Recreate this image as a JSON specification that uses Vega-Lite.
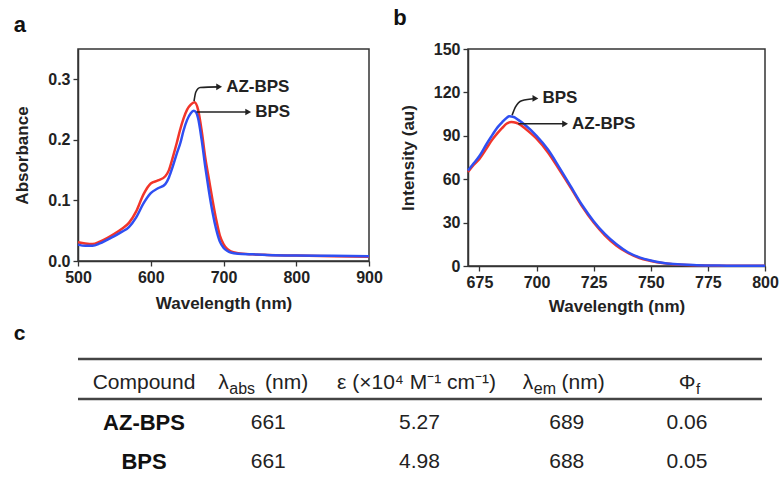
{
  "$schema": "https://vega.github.io/schema/vega-lite/v6.json",
  "background": "white",
  "padding": {"left": 13, "top": 6, "right": 5, "bottom": 0},
  "config": {
    "font": "Liberation Sans",
    "view": {"stroke": "#333", "strokeWidth": 1.5},
    "axis": {
      "grid": false, "domainColor": "#333", "domainWidth": 1.5,
      "tickColor": "#333", "tickWidth": 1.3, "labelFlush": false,
      "labelFont": "Liberation Sans", "labelFontSize": 16, "labelFontWeight": "bold", "labelColor": "#222",
      "titleFont": "Liberation Sans", "titleFontSize": 17, "titleFontWeight": "bold", "titleColor": "#222"
    },
    "title": {"fontSize": 22, "fontWeight": "bold", "anchor": "start", "frame": "bounds", "baseline": "alphabetic", "color": "#111"}
  },
  "datasets": {
    "absorbance": [
      {"compound": "AZ-BPS", "wavelength": 500, "absorbance": 0.031},
      {"compound": "AZ-BPS", "wavelength": 510, "absorbance": 0.029},
      {"compound": "AZ-BPS", "wavelength": 520, "absorbance": 0.028},
      {"compound": "AZ-BPS", "wavelength": 530, "absorbance": 0.032},
      {"compound": "AZ-BPS", "wavelength": 540, "absorbance": 0.038},
      {"compound": "AZ-BPS", "wavelength": 550, "absorbance": 0.045},
      {"compound": "AZ-BPS", "wavelength": 560, "absorbance": 0.053},
      {"compound": "AZ-BPS", "wavelength": 570, "absorbance": 0.063},
      {"compound": "AZ-BPS", "wavelength": 580, "absorbance": 0.082},
      {"compound": "AZ-BPS", "wavelength": 590, "absorbance": 0.110},
      {"compound": "AZ-BPS", "wavelength": 600, "absorbance": 0.128},
      {"compound": "AZ-BPS", "wavelength": 610, "absorbance": 0.133},
      {"compound": "AZ-BPS", "wavelength": 620, "absorbance": 0.140},
      {"compound": "AZ-BPS", "wavelength": 625, "absorbance": 0.150},
      {"compound": "AZ-BPS", "wavelength": 630, "absorbance": 0.170},
      {"compound": "AZ-BPS", "wavelength": 636, "absorbance": 0.196},
      {"compound": "AZ-BPS", "wavelength": 640, "absorbance": 0.215},
      {"compound": "AZ-BPS", "wavelength": 645, "absorbance": 0.235},
      {"compound": "AZ-BPS", "wavelength": 650, "absorbance": 0.250},
      {"compound": "AZ-BPS", "wavelength": 655, "absorbance": 0.258},
      {"compound": "AZ-BPS", "wavelength": 660, "absorbance": 0.262},
      {"compound": "AZ-BPS", "wavelength": 665, "absorbance": 0.250},
      {"compound": "AZ-BPS", "wavelength": 670, "absorbance": 0.215},
      {"compound": "AZ-BPS", "wavelength": 675, "absorbance": 0.170},
      {"compound": "AZ-BPS", "wavelength": 680, "absorbance": 0.135},
      {"compound": "AZ-BPS", "wavelength": 685, "absorbance": 0.100},
      {"compound": "AZ-BPS", "wavelength": 690, "absorbance": 0.068},
      {"compound": "AZ-BPS", "wavelength": 695, "absorbance": 0.042},
      {"compound": "AZ-BPS", "wavelength": 700, "absorbance": 0.028},
      {"compound": "AZ-BPS", "wavelength": 705, "absorbance": 0.020},
      {"compound": "AZ-BPS", "wavelength": 710, "absorbance": 0.016},
      {"compound": "AZ-BPS", "wavelength": 720, "absorbance": 0.013},
      {"compound": "AZ-BPS", "wavelength": 740, "absorbance": 0.011},
      {"compound": "AZ-BPS", "wavelength": 760, "absorbance": 0.010},
      {"compound": "AZ-BPS", "wavelength": 800, "absorbance": 0.009},
      {"compound": "AZ-BPS", "wavelength": 850, "absorbance": 0.008},
      {"compound": "AZ-BPS", "wavelength": 900, "absorbance": 0.007},
      {"compound": "BPS", "wavelength": 500, "absorbance": 0.027},
      {"compound": "BPS", "wavelength": 510, "absorbance": 0.025},
      {"compound": "BPS", "wavelength": 520, "absorbance": 0.025},
      {"compound": "BPS", "wavelength": 530, "absorbance": 0.029},
      {"compound": "BPS", "wavelength": 540, "absorbance": 0.035},
      {"compound": "BPS", "wavelength": 550, "absorbance": 0.041},
      {"compound": "BPS", "wavelength": 560, "absorbance": 0.048},
      {"compound": "BPS", "wavelength": 570, "absorbance": 0.056},
      {"compound": "BPS", "wavelength": 580, "absorbance": 0.072},
      {"compound": "BPS", "wavelength": 590, "absorbance": 0.095},
      {"compound": "BPS", "wavelength": 600, "absorbance": 0.112},
      {"compound": "BPS", "wavelength": 610, "absorbance": 0.120},
      {"compound": "BPS", "wavelength": 620, "absorbance": 0.127},
      {"compound": "BPS", "wavelength": 625, "absorbance": 0.138},
      {"compound": "BPS", "wavelength": 630, "absorbance": 0.155},
      {"compound": "BPS", "wavelength": 636, "absorbance": 0.178},
      {"compound": "BPS", "wavelength": 641, "absorbance": 0.196},
      {"compound": "BPS", "wavelength": 645, "absorbance": 0.215},
      {"compound": "BPS", "wavelength": 650, "absorbance": 0.233},
      {"compound": "BPS", "wavelength": 655, "absorbance": 0.244},
      {"compound": "BPS", "wavelength": 659, "absorbance": 0.248},
      {"compound": "BPS", "wavelength": 662, "absorbance": 0.246},
      {"compound": "BPS", "wavelength": 665, "absorbance": 0.236},
      {"compound": "BPS", "wavelength": 670, "absorbance": 0.200},
      {"compound": "BPS", "wavelength": 675, "absorbance": 0.155},
      {"compound": "BPS", "wavelength": 680, "absorbance": 0.115},
      {"compound": "BPS", "wavelength": 685, "absorbance": 0.080},
      {"compound": "BPS", "wavelength": 690, "absorbance": 0.052},
      {"compound": "BPS", "wavelength": 695, "absorbance": 0.032},
      {"compound": "BPS", "wavelength": 700, "absorbance": 0.022},
      {"compound": "BPS", "wavelength": 705, "absorbance": 0.017},
      {"compound": "BPS", "wavelength": 710, "absorbance": 0.014},
      {"compound": "BPS", "wavelength": 720, "absorbance": 0.012},
      {"compound": "BPS", "wavelength": 740, "absorbance": 0.011},
      {"compound": "BPS", "wavelength": 760, "absorbance": 0.010},
      {"compound": "BPS", "wavelength": 800, "absorbance": 0.009},
      {"compound": "BPS", "wavelength": 850, "absorbance": 0.0085},
      {"compound": "BPS", "wavelength": 900, "absorbance": 0.008}
    ],
    "emission": [
      {"compound": "AZ-BPS", "wavelength": 670, "intensity": 65},
      {"compound": "AZ-BPS", "wavelength": 672, "intensity": 69},
      {"compound": "AZ-BPS", "wavelength": 675, "intensity": 74},
      {"compound": "AZ-BPS", "wavelength": 678, "intensity": 81},
      {"compound": "AZ-BPS", "wavelength": 680, "intensity": 86},
      {"compound": "AZ-BPS", "wavelength": 683, "intensity": 92},
      {"compound": "AZ-BPS", "wavelength": 685, "intensity": 95.5},
      {"compound": "AZ-BPS", "wavelength": 687, "intensity": 98.5},
      {"compound": "AZ-BPS", "wavelength": 689, "intensity": 99.5},
      {"compound": "AZ-BPS", "wavelength": 691, "intensity": 99},
      {"compound": "AZ-BPS", "wavelength": 693, "intensity": 97.5},
      {"compound": "AZ-BPS", "wavelength": 695, "intensity": 95},
      {"compound": "AZ-BPS", "wavelength": 700, "intensity": 88},
      {"compound": "AZ-BPS", "wavelength": 705, "intensity": 78.5},
      {"compound": "AZ-BPS", "wavelength": 710, "intensity": 66.5},
      {"compound": "AZ-BPS", "wavelength": 715, "intensity": 54},
      {"compound": "AZ-BPS", "wavelength": 720, "intensity": 41},
      {"compound": "AZ-BPS", "wavelength": 725, "intensity": 30},
      {"compound": "AZ-BPS", "wavelength": 730, "intensity": 21},
      {"compound": "AZ-BPS", "wavelength": 735, "intensity": 14},
      {"compound": "AZ-BPS", "wavelength": 740, "intensity": 9},
      {"compound": "AZ-BPS", "wavelength": 745, "intensity": 5.5},
      {"compound": "AZ-BPS", "wavelength": 750, "intensity": 3.5},
      {"compound": "AZ-BPS", "wavelength": 755, "intensity": 2},
      {"compound": "AZ-BPS", "wavelength": 760, "intensity": 1.2},
      {"compound": "AZ-BPS", "wavelength": 770, "intensity": 0.5},
      {"compound": "AZ-BPS", "wavelength": 780, "intensity": 0.2},
      {"compound": "AZ-BPS", "wavelength": 790, "intensity": 0.1},
      {"compound": "AZ-BPS", "wavelength": 800, "intensity": 0.1},
      {"compound": "BPS", "wavelength": 670, "intensity": 66},
      {"compound": "BPS", "wavelength": 672, "intensity": 70},
      {"compound": "BPS", "wavelength": 675, "intensity": 76},
      {"compound": "BPS", "wavelength": 678, "intensity": 84},
      {"compound": "BPS", "wavelength": 680, "intensity": 89},
      {"compound": "BPS", "wavelength": 683, "intensity": 96},
      {"compound": "BPS", "wavelength": 685, "intensity": 99.5},
      {"compound": "BPS", "wavelength": 687, "intensity": 102.5},
      {"compound": "BPS", "wavelength": 688, "intensity": 103.5},
      {"compound": "BPS", "wavelength": 690, "intensity": 103},
      {"compound": "BPS", "wavelength": 692, "intensity": 101},
      {"compound": "BPS", "wavelength": 695, "intensity": 97.5},
      {"compound": "BPS", "wavelength": 700, "intensity": 90},
      {"compound": "BPS", "wavelength": 705, "intensity": 80.5},
      {"compound": "BPS", "wavelength": 710, "intensity": 68},
      {"compound": "BPS", "wavelength": 715, "intensity": 55},
      {"compound": "BPS", "wavelength": 720, "intensity": 42},
      {"compound": "BPS", "wavelength": 725, "intensity": 31},
      {"compound": "BPS", "wavelength": 730, "intensity": 22},
      {"compound": "BPS", "wavelength": 735, "intensity": 15},
      {"compound": "BPS", "wavelength": 740, "intensity": 9.5},
      {"compound": "BPS", "wavelength": 745, "intensity": 6},
      {"compound": "BPS", "wavelength": 750, "intensity": 3.8},
      {"compound": "BPS", "wavelength": 755, "intensity": 2.3},
      {"compound": "BPS", "wavelength": 760, "intensity": 1.4},
      {"compound": "BPS", "wavelength": 770, "intensity": 0.6},
      {"compound": "BPS", "wavelength": 780, "intensity": 0.3},
      {"compound": "BPS", "wavelength": 790, "intensity": 0.2},
      {"compound": "BPS", "wavelength": 800, "intensity": 0.1}
    ],
    "arrowsA": [
      {"label": "AZ-BPS", "wavelength": 659.5, "value": 0.264},
      {"label": "AZ-BPS", "wavelength": 662, "value": 0.279},
      {"label": "AZ-BPS", "wavelength": 668, "value": 0.2865},
      {"label": "AZ-BPS", "wavelength": 694, "value": 0.2875},
      {"label": "BPS", "wavelength": 663, "value": 0.246},
      {"label": "BPS", "wavelength": 734, "value": 0.246}
    ],
    "labelsA": [
      {"label": "AZ-BPS", "wavelength": 694, "value": 0.2875},
      {"label": "BPS", "wavelength": 734, "value": 0.246}
    ],
    "arrowsB": [
      {"label": "BPS", "wavelength": 689.3, "value": 104.3},
      {"label": "BPS", "wavelength": 690.8, "value": 110},
      {"label": "BPS", "wavelength": 693.5, "value": 114.3},
      {"label": "BPS", "wavelength": 699.5, "value": 115.8},
      {"label": "AZ-BPS", "wavelength": 692, "value": 98.3},
      {"label": "AZ-BPS", "wavelength": 712.5, "value": 98.3}
    ],
    "labelsB": [
      {"label": "BPS", "wavelength": 699.5, "value": 115.8},
      {"label": "AZ-BPS", "wavelength": 712.5, "value": 98.3}
    ],
    "table": [
      {"Compound": "AZ-BPS", "labs": 661, "eps": 5.27, "lem": 689, "phi": 0.06},
      {"Compound": "BPS", "labs": 661, "eps": 4.98, "lem": 688, "phi": 0.05}
    ],
    "header": [
      {"col": "Compound", "text": "Compound"},
      {"col": "labs", "text": "λ", "sub": "abs", "unit": "(nm)"},
      {"col": "eps", "text": "ε (×10⁴ M⁻¹ cm⁻¹)"},
      {"col": "lem", "text": "λ", "sub": "em", "unit": "(nm)"},
      {"col": "phi", "text": "Φ", "sub": "f"}
    ]
  },
  "spacing": 8,
  "vconcat": [
    {
      "spacing": 8,
      "hconcat": [
        {
          "title": {"text": "a", "offset": 12},
          "width": 291,
          "height": 212,
          "layer": [
            {
              "data": {"name": "absorbance"},
              "mark": {"type": "line", "strokeWidth": 2.5, "interpolate": "monotone"},
              "encoding": {
                "x": {"field": "wavelength", "type": "quantitative", "scale": {"domain": [500, 900], "nice": false},
                  "axis": {"title": "Wavelength (nm)", "values": [500, 550, 600, 650, 700, 750, 800, 850, 900], "format": "d",
                    "labelExpr": "datum.value % 100 === 0 ? datum.label : ''",
                    "tickSize": {"condition": {"test": "datum.value % 100 === 0", "value": 5}, "value": 3},
                    "labelPadding": 3, "titlePadding": 10}},
                "y": {"field": "absorbance", "type": "quantitative", "scale": {"domain": [0, 0.35], "nice": false},
                  "axis": {"title": "Absorbance", "values": [0, 0.05, 0.1, 0.15, 0.2, 0.25, 0.3, 0.35], "format": ".1f",
                    "labelExpr": "round(datum.value * 100) % 10 === 0 ? datum.label : ''",
                    "tickSize": {"condition": {"test": "round(datum.value * 100) % 10 === 0", "value": 5}, "value": 3},
                    "labelPadding": 3, "titlePadding": 16}},
                "color": {"field": "compound", "type": "nominal", "scale": {"domain": ["AZ-BPS", "BPS"], "range": ["#f2352a", "#2f4ff2"]}, "legend": null}
              }
            },
            {
              "data": {"name": "arrowsA"},
              "mark": {"type": "line", "interpolate": "monotone", "color": "#222", "strokeWidth": 1.6},
              "encoding": {
                "x": {"field": "wavelength", "type": "quantitative"},
                "y": {"field": "value", "type": "quantitative"},
                "detail": {"field": "label", "type": "nominal"}
              }
            },
            {
              "data": {"name": "labelsA"},
              "mark": {"type": "point", "shape": "triangle-right", "filled": true, "color": "#222", "size": 45, "opacity": 1},
              "encoding": {
                "x": {"field": "wavelength", "type": "quantitative"},
                "y": {"field": "value", "type": "quantitative"}
              }
            },
            {
              "data": {"name": "labelsA"},
              "mark": {"type": "text", "align": "left", "baseline": "middle", "fontSize": 17, "fontWeight": "bold", "dx": 7, "color": "#222"},
              "encoding": {
                "x": {"field": "wavelength", "type": "quantitative"},
                "y": {"field": "value", "type": "quantitative"},
                "text": {"field": "label", "type": "nominal"}
              }
            }
          ]
        },
        {
          "title": {"text": "b", "offset": 11, "dx": -6},
          "width": 297,
          "height": 217,
          "layer": [
            {
              "data": {"name": "emission"},
              "mark": {"type": "line", "strokeWidth": 2.5, "interpolate": "monotone"},
              "encoding": {
                "x": {"field": "wavelength", "type": "quantitative", "scale": {"domain": [670, 800], "nice": false},
                  "axis": {"title": "Wavelength (nm)", "values": [675, 687.5, 700, 712.5, 725, 737.5, 750, 762.5, 775, 787.5, 800], "format": "d",
                    "labelExpr": "(datum.value - 675) % 25 === 0 ? datum.label : ''",
                    "tickSize": {"condition": {"test": "(datum.value - 675) % 25 === 0", "value": 5}, "value": 3},
                    "labelPadding": 3, "titlePadding": 8}},
                "y": {"field": "intensity", "type": "quantitative", "scale": {"domain": [0, 150], "nice": false},
                  "axis": {"title": "Intensity (au)", "values": [0, 15, 30, 45, 60, 75, 90, 105, 120, 135, 150], "format": "d",
                    "labelExpr": "datum.value % 30 === 0 ? datum.label : ''",
                    "tickSize": {"condition": {"test": "datum.value % 30 === 0", "value": 5}, "value": 3},
                    "labelPadding": 3, "titlePadding": 16}},
                "color": {"field": "compound", "type": "nominal", "scale": {"domain": ["AZ-BPS", "BPS"], "range": ["#f2352a", "#2f4ff2"]}, "legend": null}
              }
            },
            {
              "data": {"name": "arrowsB"},
              "mark": {"type": "line", "interpolate": "monotone", "color": "#222", "strokeWidth": 1.6},
              "encoding": {
                "x": {"field": "wavelength", "type": "quantitative"},
                "y": {"field": "value", "type": "quantitative"},
                "detail": {"field": "label", "type": "nominal"}
              }
            },
            {
              "data": {"name": "labelsB"},
              "mark": {"type": "point", "shape": "triangle-right", "filled": true, "color": "#222", "size": 45, "opacity": 1},
              "encoding": {
                "x": {"field": "wavelength", "type": "quantitative"},
                "y": {"field": "value", "type": "quantitative"}
              }
            },
            {
              "data": {"name": "labelsB"},
              "mark": {"type": "text", "align": "left", "baseline": "middle", "fontSize": 17, "fontWeight": "bold", "dx": 7, "color": "#222"},
              "encoding": {
                "x": {"field": "wavelength", "type": "quantitative"},
                "y": {"field": "value", "type": "quantitative"},
                "text": {"field": "label", "type": "nominal"}
              }
            }
          ]
        }
      ]
    },
    {
      "title": {"text": "c", "offset": 7, "dx": -63, "fontSize": 21},
      "width": 684,
      "height": 120,
      "view": {"stroke": null},
      "layer": [
        {
          "data": {"values": [{}]},
          "mark": {"type": "rule", "color": "#444", "strokeWidth": 2.5, "yOffset": -24},
          "encoding": {
            "y": {"datum": "header", "type": "nominal", "scale": {"type": "point", "domain": ["header", "AZ-BPS", "BPS"], "range": [32, 111], "padding": 0}, "axis": null}
          }
        },
        {
          "data": {"values": [{}]},
          "mark": {"type": "rule", "color": "#444", "strokeWidth": 2.5, "yOffset": 16},
          "encoding": {
            "y": {"datum": "header", "type": "nominal", "axis": null}
          }
        },
        {
          "data": {"name": "header"},
          "transform": [{"filter": "datum.col === 'Compound' || datum.col === 'eps'"}],
          "mark": {"type": "text", "fontSize": 21, "align": "center", "baseline": "middle", "color": "#222"},
          "encoding": {
            "x": {"field": "col", "type": "nominal", "scale": {"type": "point", "domain": ["Compound", "labs", "eps", "lem", "phi"], "range": [66, 611], "padding": 0}, "axis": null},
            "y": {"datum": "header", "type": "nominal", "axis": null},
            "text": {"field": "text", "type": "nominal"}
          }
        },
        {
          "data": {"name": "header"},
          "transform": [{"filter": "datum.col === 'labs'"}],
          "mark": {"type": "text", "fontSize": 21, "align": "left", "baseline": "middle", "dx": -62, "color": "#222"},
          "encoding": {
            "x": {"field": "col", "type": "nominal", "axis": null},
            "y": {"datum": "header", "type": "nominal", "axis": null},
            "text": {"field": "text", "type": "nominal"}
          }
        },
        {
          "data": {"name": "header"},
          "transform": [{"filter": "datum.col === 'labs'"}],
          "mark": {"type": "text", "fontSize": 16, "align": "left", "baseline": "middle", "dx": -51, "dy": 6, "color": "#222"},
          "encoding": {
            "x": {"field": "col", "type": "nominal", "axis": null},
            "y": {"datum": "header", "type": "nominal", "axis": null},
            "text": {"field": "sub", "type": "nominal"}
          }
        },
        {
          "data": {"name": "header"},
          "transform": [{"filter": "datum.col === 'labs'"}],
          "mark": {"type": "text", "fontSize": 21, "align": "right", "baseline": "middle", "dx": 28, "color": "#222"},
          "encoding": {
            "x": {"field": "col", "type": "nominal", "axis": null},
            "y": {"datum": "header", "type": "nominal", "axis": null},
            "text": {"field": "unit", "type": "nominal"}
          }
        },
        {
          "data": {"name": "header"},
          "transform": [{"filter": "datum.col === 'lem'"}],
          "mark": {"type": "text", "fontSize": 21, "align": "left", "baseline": "middle", "dx": -30, "color": "#222"},
          "encoding": {
            "x": {"field": "col", "type": "nominal", "axis": null},
            "y": {"datum": "header", "type": "nominal", "axis": null},
            "text": {"field": "text", "type": "nominal"}
          }
        },
        {
          "data": {"name": "header"},
          "transform": [{"filter": "datum.col === 'lem'"}],
          "mark": {"type": "text", "fontSize": 16, "align": "left", "baseline": "middle", "dx": -19, "dy": 6, "color": "#222"},
          "encoding": {
            "x": {"field": "col", "type": "nominal", "axis": null},
            "y": {"datum": "header", "type": "nominal", "axis": null},
            "text": {"field": "sub", "type": "nominal"}
          }
        },
        {
          "data": {"name": "header"},
          "transform": [{"filter": "datum.col === 'lem'"}],
          "mark": {"type": "text", "fontSize": 21, "align": "right", "baseline": "middle", "dx": 52, "color": "#222"},
          "encoding": {
            "x": {"field": "col", "type": "nominal", "axis": null},
            "y": {"datum": "header", "type": "nominal", "axis": null},
            "text": {"field": "unit", "type": "nominal"}
          }
        },
        {
          "data": {"name": "header"},
          "transform": [{"filter": "datum.col === 'phi'"}],
          "mark": {"type": "text", "fontSize": 21, "align": "center", "baseline": "middle", "dx": -2, "color": "#222"},
          "encoding": {
            "x": {"field": "col", "type": "nominal", "axis": null},
            "y": {"datum": "header", "type": "nominal", "axis": null},
            "text": {"field": "text", "type": "nominal"}
          }
        },
        {
          "data": {"name": "header"},
          "transform": [{"filter": "datum.col === 'phi'"}],
          "mark": {"type": "text", "fontSize": 15, "align": "left", "baseline": "middle", "dx": 7, "dy": 6, "color": "#222"},
          "encoding": {
            "x": {"field": "col", "type": "nominal", "axis": null},
            "y": {"datum": "header", "type": "nominal", "axis": null},
            "text": {"field": "sub", "type": "nominal"}
          }
        },
        {
          "data": {"name": "table"},
          "mark": {"type": "text", "fontSize": 22, "fontWeight": "bold", "align": "center", "baseline": "middle", "color": "#111"},
          "encoding": {
            "x": {"datum": "Compound", "type": "nominal", "axis": null},
            "y": {"field": "Compound", "type": "nominal", "axis": null},
            "text": {"field": "Compound", "type": "nominal"}
          }
        },
        {
          "data": {"name": "table"},
          "mark": {"type": "text", "fontSize": 21, "align": "center", "baseline": "middle", "dx": -12, "color": "#222"},
          "encoding": {
            "x": {"datum": "labs", "type": "nominal", "axis": null},
            "y": {"field": "Compound", "type": "nominal", "axis": null},
            "text": {"field": "labs", "type": "nominal"}
          }
        },
        {
          "data": {"name": "table"},
          "mark": {"type": "text", "fontSize": 21, "align": "center", "baseline": "middle", "dx": 3, "color": "#222"},
          "encoding": {
            "x": {"datum": "eps", "type": "nominal", "axis": null},
            "y": {"field": "Compound", "type": "nominal", "axis": null},
            "text": {"field": "eps", "type": "nominal"}
          }
        },
        {
          "data": {"name": "table"},
          "mark": {"type": "text", "fontSize": 21, "align": "center", "baseline": "middle", "dx": 14, "color": "#222"},
          "encoding": {
            "x": {"datum": "lem", "type": "nominal", "axis": null},
            "y": {"field": "Compound", "type": "nominal", "axis": null},
            "text": {"field": "lem", "type": "nominal"}
          }
        },
        {
          "data": {"name": "table"},
          "mark": {"type": "text", "fontSize": 21, "align": "center", "baseline": "middle", "dx": -2, "color": "#222"},
          "encoding": {
            "x": {"datum": "phi", "type": "nominal", "axis": null},
            "y": {"field": "Compound", "type": "nominal", "axis": null},
            "text": {"field": "phi", "type": "nominal"}
          }
        }
      ]
    }
  ]
}
